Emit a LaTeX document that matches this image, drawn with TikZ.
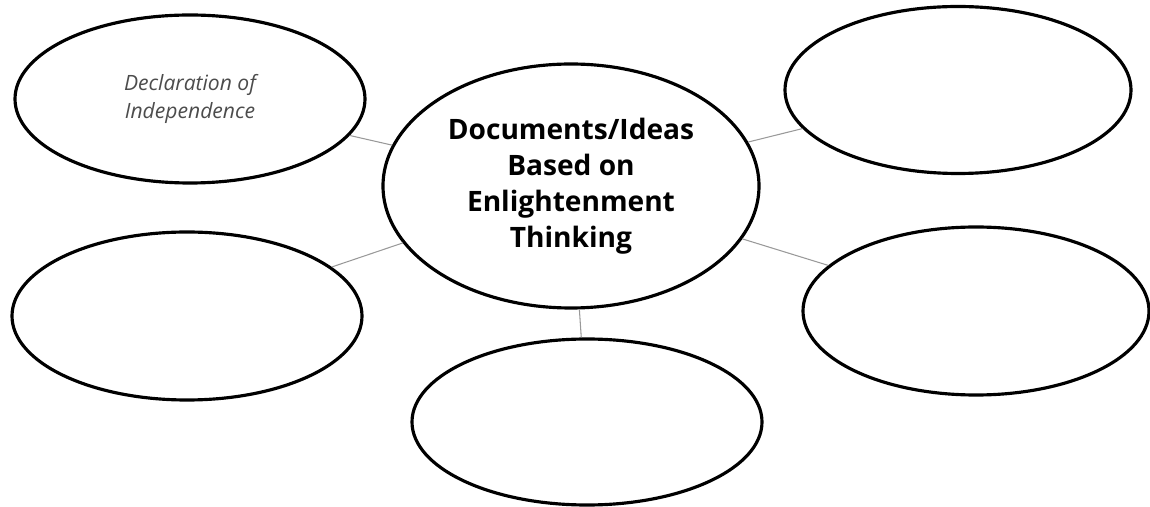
\documentclass[tikz,border=0pt]{standalone}
\usepackage{fontspec}
\setsansfont{Open Sans}
\usepackage{tikz}
\usetikzlibrary{shapes,calc}
\usetikzlibrary{positioning}

\begin{document}
\begin{tikzpicture}[bubble/.style={draw, ellipse, line width=1.8pt, inner sep=0pt, minimum width=7cm, minimum height=3.36cm},
link/.style={-, line width=0.6pt, color=gray!80},
hand/.style={font=\sffamily\itshape\fontsize{12}{16}\selectfont, text=black!70, align=center},
hub/.style={font=\sffamily\bfseries\fontsize{16}{20.5}\selectfont, align=center}]
\useasboundingbox (0,0) rectangle (23,-10.14);
\node[bubble, hub, minimum width=7.52cm, minimum height=4.88cm] (ideas) at (11.42,-3.72) {Documents/Ideas\\Based on\\Enlightenment\\Thinking};
\node[bubble, hand] (decl) at (3.8,-1.98) {Declaration of\\Independence};
\node[bubble, minimum width=6.92cm, minimum height=3.34cm] (topR) at (19.16,-1.80) {};
\node[bubble] (midL) at (3.74,-6.32) {};
\node[bubble, minimum width=6.92cm] (midR) at (19.52,-6.22) {};
\node[bubble, minimum height=3.32cm] (bot) at (11.74,-8.44) {};
\draw[link] (decl) -- (ideas);
\draw[link] (ideas) -- (topR);
\draw[link] (ideas) -- (midL);
\draw[link] (ideas) -- (midR);
\draw[link] (ideas) -- (bot);
\end{tikzpicture}
\end{document}
